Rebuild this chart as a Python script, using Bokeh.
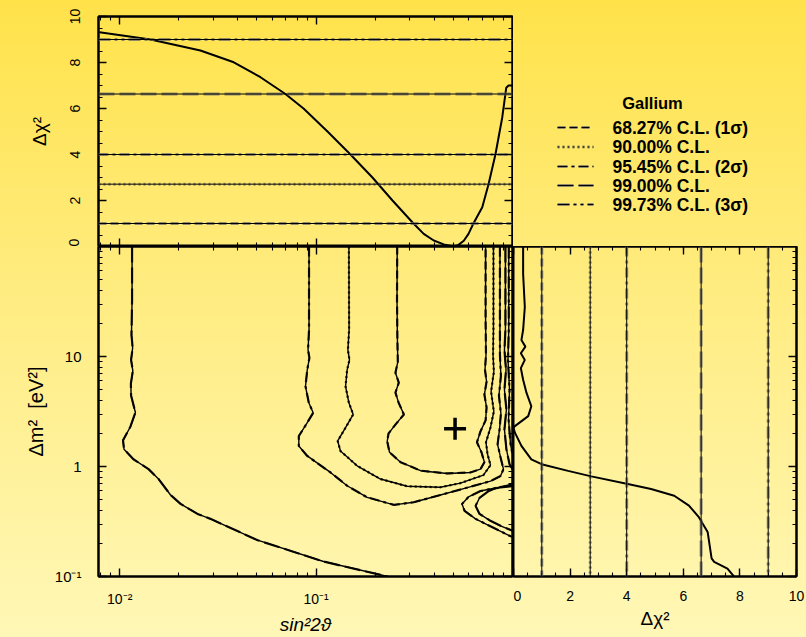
import numpy as np
from bokeh.core.properties import value
from bokeh.embed import file_html
from bokeh.layouts import column, row
from bokeh.models import FixedTicker, LinearAxis, LogAxis, Range1d, Span
from bokeh.plotting import figure
from bokeh.resources import INLINE

FONT = "Liberation Sans"

# ---------------------------------------------------------------- data
cl_labels = ["68.27% C.L. (1σ)", "90.00% C.L.", "95.45% C.L. (2σ)",
             "99.00% C.L.", "99.73% C.L. (3σ)"]
cl_dchi2 = [1.00, 2.71, 4.00, 6.63, 9.00]
cl_dash = ["8 4", "2 3", "10 4 3 4", "16 5", "12 4 3 4 3 4"]

# Δχ² marginalised over Δm², versus sin²2θ
marg_sin2 = [0.00789, 0.01436, 0.02576, 0.0381, 0.0521, 0.0698, 0.0863, 0.1143,
             0.1496, 0.1936, 0.2449, 0.3133, 0.3532, 0.3972, 0.4467, 0.5012,
             0.531, 0.5649, 0.597, 0.6324, 0.7015, 0.7551, 0.8185, 0.8872, 0.9290,
             0.9550, 1.0]
marg_sin2_dchi2 = [9.32, 9.00, 8.52, 8.01, 7.36, 6.63, 6.00, 5.00,
                   4.00, 3.00, 2.00, 1.00, 0.55, 0.26, 0.09, 0.00,
                   0.07, 0.25, 0.55, 1.00, 1.71, 2.71, 4.00, 5.62, 6.90,
                   7.00, 7.00]

# Δχ² marginalised over sin²2θ, versus Δm² [eV²]
marg_dm2 = [100, 56.5, 28.2, 17.4, 14.1, 12.3, 10.7, 9.31, 7.84, 6.15,
            4.67, 3.53, 2.87, 2.33, 2.25, 2.03, 1.54, 1.16, 1.05, 0.912,
            0.813, 0.692, 0.624, 0.542, 0.441, 0.346, 0.254, 0.146, 0.136, 0.118,
            0.096]
marg_dm2_dchi2 = [0.34, 0.34, 0.40, 0.34, 0.28, 0.42, 0.26, 0.40, 0.26, 0.34,
                  0.46, 0.63, 0.52, 0.05, 0.00, 0.05, 0.28, 0.63, 0.99, 1.93,
                  2.75, 4.04, 4.86, 5.68, 6.20, 6.55, 6.86, 7.00, 7.09, 7.56,
                  7.85]

# best fit point
best_sin2 = [0.51]
best_dm2 = [2.2]

# allowed-region boundaries, given as log10(sin²2θ), log10(Δm²)
cl68_log_s = [-0.587, -0.588, -0.586, -0.584, -0.596, -0.579, -0.596, -0.580, -0.553, -0.591,
              -0.631, -0.638, -0.626, -0.570, -0.468, -0.332, -0.214, -0.163, -0.143, -0.158,
              -0.181, -0.163, -0.137, -0.132, -0.143, -0.132, -0.140, -0.135, -0.137, -0.137]
cl68_log_dm = [2.0, 1.512, 1.151, 0.952, 0.852, 0.762, 0.672, 0.581, 0.473, 0.392,
               0.301, 0.229, 0.129, 0.039, -0.038, -0.063, -0.054, -0.024, 0.039, 0.129,
               0.220, 0.319, 0.419, 0.536, 0.654, 0.771, 0.879, 1.015, 1.331, 2.0]

cl90_log_s = [-0.833, -0.832, -0.838, -0.830, -0.842, -0.850, -0.833, -0.811, -0.850, -0.890,
              -0.876, -0.791, -0.672, -0.536, -0.367, -0.265, -0.148, -0.112, -0.127, -0.135,
              -0.112, -0.095, -0.109, -0.095, -0.099, -0.097, -0.097]
cl90_log_dm = [2.0, 1.241, 1.060, 0.970, 0.879, 0.729, 0.579, 0.473, 0.353, 0.232,
               0.141, 0.006, -0.114, -0.180, -0.189, -0.151, -0.078, 0.012, 0.111, 0.220,
               0.355, 0.500, 0.681, 0.861, 1.015, 1.241, 2.0]

cl95_log_s = [-1.036, -1.036, -1.041, -1.034, -1.045, -1.054, -1.037, -1.015, -1.045, -1.088,
              -1.088, -1.045, -0.927, -0.842, -0.740, -0.604, -0.503, -0.367, -0.239, -0.112,
              -0.061, -0.046, -0.061, -0.076, -0.066, -0.059, -0.069, -0.059, -0.064, -0.064,
              -0.064]
cl95_log_dm = [2.0, 1.241, 1.060, 0.988, 0.879, 0.729, 0.579, 0.488, 0.398, 0.277,
               0.186, 0.096, -0.054, -0.175, -0.280, -0.349, -0.325, -0.259, -0.196, -0.133,
               -0.087, -0.024, 0.084, 0.202, 0.337, 0.482, 0.645, 0.825, 1.015, 1.241,
               2.0]

cl99_left_log_s = [-1.937, -1.937, -1.940, -1.934, -1.942, -1.933, -1.943, -1.942, -1.920, -1.945,
                   -1.983, -1.978, -1.930, -1.853, -1.802, -1.741, -1.690, -1.604, -1.538, -1.298,
                   -0.962, -0.636]
cl99_left_log_dm = [2.0, 1.512, 1.196, 1.078, 0.970, 0.870, 0.753, 0.645, 0.491, 0.364,
                    0.238, 0.157, 0.066, -0.024, -0.114, -0.259, -0.340, -0.431, -0.476, -0.670,
                    -0.864, -1.0]
cl99_right_log_s = [-0.036, -0.036, -0.041, -0.033, -0.041, -0.031, -0.041, -0.031, -0.015, 0.0]
cl99_right_log_dm = [2.0, 1.241, 1.060, 0.879, 0.699, 0.518, 0.337, 0.157, 0.021, -0.024]
cl99_low_log_s = [0.0, -0.061, -0.122, -0.168, -0.188, -0.168, -0.112, -0.061, 0.0]
cl99_low_log_dm = [-0.164, -0.187, -0.223, -0.286, -0.358, -0.431, -0.494, -0.539, -0.584]

cl997_right_log_s = [-0.019, -0.019, -0.023, -0.015, -0.020, -0.010, 0.0]
cl997_right_log_dm = [2.0, 1.241, 0.970, 0.699, 0.428, 0.202, 0.111]
cl997_low_log_s = [0.0, -0.087, -0.163, -0.224, -0.257, -0.244, -0.188, -0.112, 0.0]
cl997_low_log_dm = [-0.178, -0.196, -0.223, -0.277, -0.340, -0.404, -0.476, -0.544, -0.643]

contours = [
    [(cl68_log_s, cl68_log_dm)],
    [(cl90_log_s, cl90_log_dm)],
    [(cl95_log_s, cl95_log_dm)],
    [(cl99_left_log_s, cl99_left_log_dm), (cl99_right_log_s, cl99_right_log_dm),
     (cl99_low_log_s, cl99_low_log_dm)],
    [(cl997_right_log_s, cl997_right_log_dm), (cl997_low_log_s, cl997_low_log_dm)],
]

sin2_ticks = [0.01, 0.1]
sin2_minor = [0.008, 0.009] + [k * 0.01 for k in range(2, 10)] + [k * 0.1 for k in range(2, 10)]
dm2_ticks = [0.1, 1, 10]
dm2_minor = [k * 0.1 for k in range(2, 10)] + list(range(2, 10)) + [k * 10 for k in range(2, 11)]
dchi2_ticks = [0, 2, 4, 6, 8, 10]
dchi2_minor = [k * 0.5 for k in range(0, 21)]

SIN2_RANGE = (0.0078, 1.0)
DM2_RANGE = (0.1, 100)
DCHI2_RANGE = (0, 10)


# ---------------------------------------------------------------- helpers
def base_fig(**kw):
    p = figure(toolbar_location=None, output_backend="svg",
               x_axis_location=None, y_axis_location=None,
               background_fill_color=None, border_fill_color=None,
               outline_line_color="black", outline_line_width=2, **kw)
    p.xgrid.visible = False
    p.ygrid.visible = False
    return p


def edge_axis(cls, ticks, minor, labelled=False, **kw):
    opts = dict(ticker=FixedTicker(ticks=ticks, minor_ticks=minor),
                major_tick_in=8, major_tick_out=0, minor_tick_in=4, minor_tick_out=0,
                major_tick_line_width=1.4, minor_tick_line_width=1.1,
                axis_line_width=2, axis_line_color="black")
    if labelled:
        opts.update(major_label_text_font=FONT, major_label_text_color="black",
                    axis_label_text_font=FONT, axis_label_text_color="black",
                    axis_label_text_font_style="normal")
    else:
        # tick marks only: labels kept tiny and invisible so the border stays thin
        opts.update(major_label_text_font_size="1px", major_label_text_alpha=0,
                    major_label_standoff=0)
    opts.update(kw)
    return cls(**opts)


def level_lines(p, dimension):
    for lev, dash in zip(cl_dchi2, cl_dash):
        p.add_layout(Span(location=lev, dimension=dimension, line_color="#6b6b6b",
                          line_alpha=0.75, line_width=3, line_dash=dash))
        p.add_layout(Span(location=lev, dimension=dimension, line_color="black",
                          line_width=1))


# ---------------------------------------------------------------- top panel: Δχ² vs sin²2θ
top = base_fig(width=513, height=246, x_axis_type="log",
               x_range=Range1d(*SIN2_RANGE), y_range=Range1d(*DCHI2_RANGE),
               min_border_left=98, min_border_right=1, min_border_top=16, min_border_bottom=0)
top.add_layout(edge_axis(LinearAxis, dchi2_ticks, dchi2_minor, labelled=True,
                         axis_label="Δχ²", axis_label_text_font_size="19px",
                         axis_label_standoff=17, major_label_text_font_size="14px",
                         major_label_orientation="vertical", major_label_standoff=19), "left")
top.add_layout(edge_axis(LinearAxis, dchi2_ticks, dchi2_minor), "right")
top.add_layout(edge_axis(LogAxis, sin2_ticks, sin2_minor), "below")
top.add_layout(edge_axis(LogAxis, sin2_ticks, sin2_minor), "above")
level_lines(top, "width")
top.line(marg_sin2, marg_sin2_dchi2, line_color="black", line_width=2)

# ---------------------------------------------------------------- legend block
# ranges follow the page pixels of this block, the frame starts 16 px down
leg = base_fig(width=293, height=246, x_range=Range1d(513, 806), y_range=Range1d(246, 16),
               min_border_left=0, min_border_right=0, min_border_top=16, min_border_bottom=0)
leg.outline_line_color = None
row_y = [127, 146.5, 166, 185, 204]
leg.text(x=[652], y=[102], text=["Gallium"], text_align="center", text_baseline="middle",
         text_font=value(FONT), text_font_size="16.5px", text_font_style="bold",
         text_color="black")
leg.text(x=[612] * len(cl_labels), y=row_y, text=cl_labels, text_baseline="middle",
         text_font=value(FONT), text_font_size="17.5px", text_font_style="bold",
         text_color="black")
for y, dash in zip(row_y, cl_dash):
    leg.line([557, 593], [y, y], line_color="#6b6b6b", line_alpha=0.75, line_width=3,
             line_dash=dash)
    leg.line([557, 593], [y, y], line_color="black", line_width=1.2, line_dash=dash)

# ---------------------------------------------------------------- main panel: Δm² vs sin²2θ
main = base_fig(width=513, height=391, x_axis_type="log", y_axis_type="log",
                x_range=Range1d(*SIN2_RANGE), y_range=Range1d(*DM2_RANGE),
                min_border_left=98, min_border_right=1, min_border_top=0, min_border_bottom=59)
main.add_layout(edge_axis(LogAxis, sin2_ticks, sin2_minor, labelled=True,
                          major_label_overrides={0.01: "10⁻²", 0.1: "10⁻¹"},
                          major_label_text_font_size="14px", major_label_standoff=14,
                          axis_label="sin²2ϑ", axis_label_text_font_size="19px",
                          axis_label_text_font_style="italic", axis_label_standoff=4),
                "below")
main.add_layout(edge_axis(LogAxis, dm2_ticks, dm2_minor, labelled=True,
                          major_label_overrides={0.1: "10⁻¹", 1: "1", 10: "10"},
                          major_label_text_font_size="15px", major_label_standoff=17,
                          major_label_orientation="horizontal",
                          axis_label="Δm²\u00a0\u00a0[eV²]", axis_label_text_font_size="20px",
                          axis_label_standoff=5), "left")
main.add_layout(edge_axis(LogAxis, sin2_ticks, sin2_minor), "above")
main.add_layout(edge_axis(LogAxis, dm2_ticks, dm2_minor), "right")

for pieces, dash in zip(contours, cl_dash):
    xs = [list(10 ** np.array(s)) for s, _ in pieces]
    ys = [list(10 ** np.array(d)) for _, d in pieces]
    main.multi_line(xs, ys, line_color="black", line_width=1.4)
    main.multi_line(xs, ys, line_color="black", line_width=2.2, line_dash=dash, line_alpha=0.9)

main.scatter(best_sin2, best_dm2, marker="cross", size=22, line_width=3.5,
             line_color="black")

# ---------------------------------------------------------------- right panel: Δm² vs Δχ²
side = base_fig(width=293, height=391, y_axis_type="log",
                x_range=Range1d(*DCHI2_RANGE), y_range=Range1d(*DM2_RANGE),
                min_border_left=0, min_border_right=10, min_border_top=0, min_border_bottom=59)
side.add_layout(edge_axis(LinearAxis, dchi2_ticks, dchi2_minor, labelled=True,
                          major_label_text_font_size="14px", major_label_standoff=14,
                          axis_label="Δχ²", axis_label_text_font_size="19px",
                          axis_label_standoff=4), "below")
side.add_layout(edge_axis(LinearAxis, dchi2_ticks, dchi2_minor), "above")
side.add_layout(edge_axis(LogAxis, dm2_ticks, dm2_minor), "right")
level_lines(side, "height")
side.line(marg_dm2_dchi2, marg_dm2, line_color="black", line_width=2)

layout = column(
    row(top, leg),
    row(main, side),
    styles={"background": "linear-gradient(180deg, #FFE24A 0%, #FFEC80 45%, #FFF7B6 100%)"},
)

open("out.html", "w").write(file_html(layout, INLINE))
